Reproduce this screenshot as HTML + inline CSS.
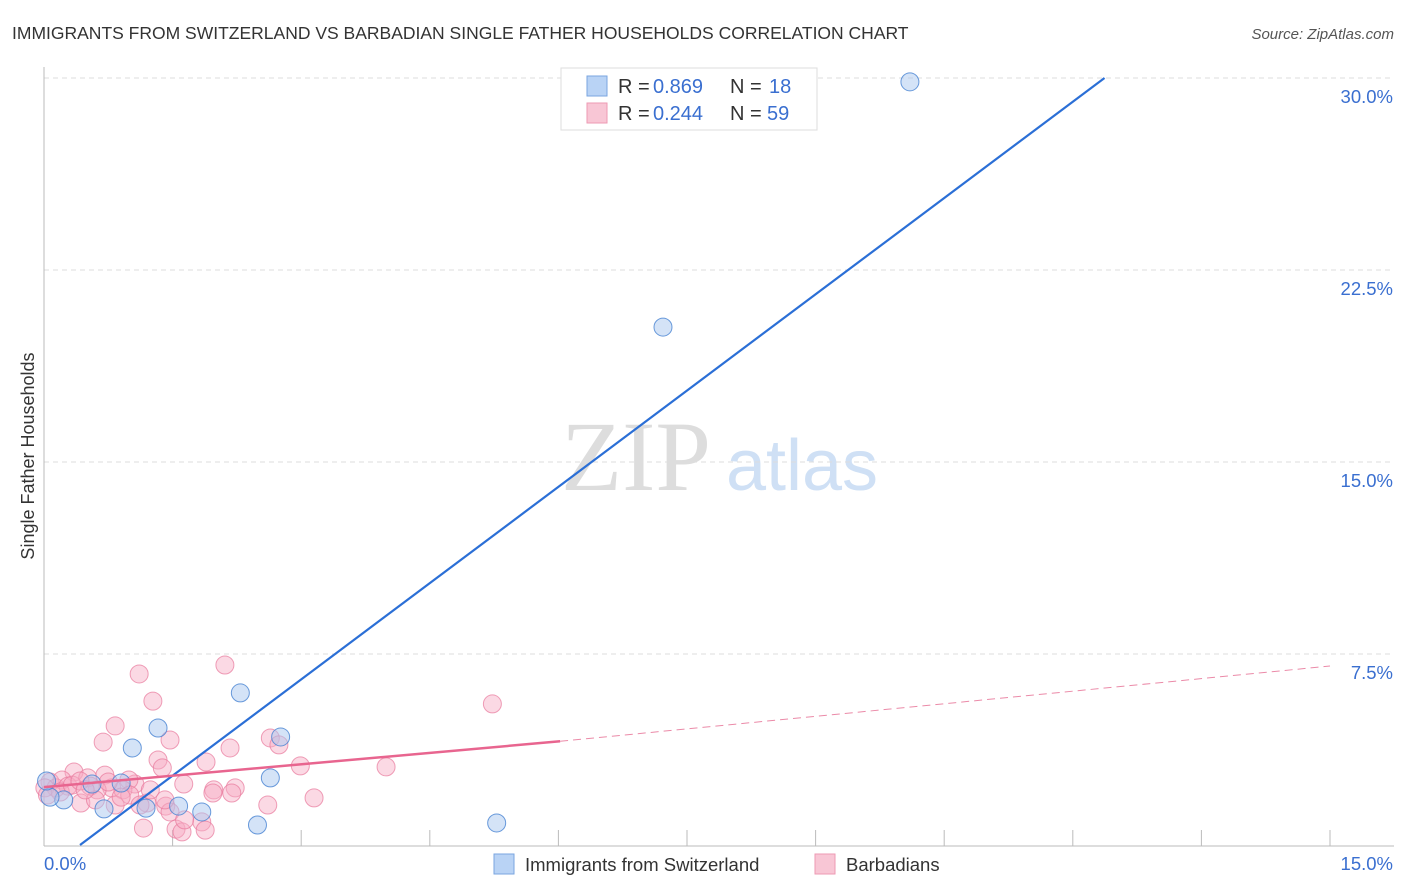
<!DOCTYPE html>
<html><head><meta charset="utf-8"><style>
body{margin:0;background:#fff;font-family:"Liberation Sans",sans-serif;}
svg{display:block}
</style></head><body>
<svg id="chart" width="1406" height="892" xmlns="http://www.w3.org/2000/svg">
<text x="12" y="39" font-size="17.5" fill="#333">IMMIGRANTS FROM SWITZERLAND VS BARBADIAN SINGLE FATHER HOUSEHOLDS CORRELATION CHART</text>
<text x="1394" y="39" font-size="15" fill="#555" font-style="italic" text-anchor="end">Source: ZipAtlas.com</text>
<text transform="translate(34,456) rotate(-90)" font-size="18" fill="#333" text-anchor="middle">Single Father Households</text>
<g>
<text x="636" y="490" font-size="100" font-family="Liberation Serif,serif" fill="#ddd" text-anchor="middle">ZIP</text>
<text x="802" y="490" font-size="72" fill="#cfe0f5" text-anchor="middle">atlas</text>
</g>
<g id="grid"></g><g id="axes"></g><g id="pts"></g><g id="lines"></g>
<g>
<rect x="561" y="68" width="256" height="62" fill="#fff" stroke="#ddd"/>
<rect x="587" y="76" width="20" height="20" fill="#b9d3f5" stroke="#7aa6e0"/>
<text x="618" y="93" font-size="20" fill="#333">R =</text>
<text x="653" y="93" font-size="20" fill="#3a6fd0">0.869</text>
<text x="730" y="93" font-size="20" fill="#333">N =</text>
<text x="769" y="93" font-size="20" fill="#3a6fd0">18</text>
<rect x="587" y="103" width="20" height="20" fill="#f8c6d5" stroke="#ee9ab3"/>
<text x="618" y="120" font-size="20" fill="#333">R =</text>
<text x="653" y="120" font-size="20" fill="#3a6fd0">0.244</text>
<text x="730" y="120" font-size="20" fill="#333">N =</text>
<text x="767" y="120" font-size="20" fill="#3a6fd0">59</text>
</g>
<g>
<rect x="494" y="854" width="20" height="20" fill="#b9d3f5" stroke="#7aa6e0"/>
<text x="525" y="871" font-size="18.5" fill="#333">Immigrants from Switzerland</text>
<rect x="815" y="854" width="20" height="20" fill="#f8c6d5" stroke="#ee9ab3"/>
<text x="846" y="871" font-size="18.5" fill="#333">Barbadians</text>
</g>
</svg>
<script>
const blueX=[10.1,7.22,2.29,1.33,1.03,2.76,2.64,1.57,1.19,1.84,2.49,5.28,0.70,0.23,0.07,0.03,0.56,0.90];
const blueY=[29.85,20.27,5.98,4.61,3.83,4.26,2.66,1.56,1.48,1.33,0.82,0.90,1.45,1.80,1.91,2.54,2.42,2.46];
const pinkX=[2.11,1.11,1.27,0.83,0.69,1.47,2.64,2.74,2.17,1.33,1.38,1.89,2.99,3.99,5.23,1.63,0.35,0.51,0.71,1.06,0.79,0.99,0.07,0.14,0.21,0.28,0.01,0.62,0.92,1.98,2.23,1.97,2.19,0.43,0.83,1.2,2.61,3.15,1.16,1.54,1.61,1.84,1.42,0.19,0.33,0.54,0.75,1.0,1.24,1.47,1.12,0.9,0.42,0.04,0.6,1.41,1.64,1.88,0.48];
const pinkY=[7.07,6.72,5.66,4.69,4.06,4.14,4.22,3.95,3.83,3.36,3.05,3.28,3.13,3.09,5.55,2.42,2.89,2.66,2.77,2.42,2.27,2.58,2.5,2.27,2.58,2.34,2.27,2.19,2.19,2.19,2.27,2.07,2.07,1.68,1.6,1.68,1.6,1.88,0.7,0.66,0.55,0.94,1.56,2.11,2.38,2.34,2.5,1.99,2.19,1.33,1.6,1.91,2.54,1.99,1.8,1.8,1.02,0.62,2.19];
const yTicks=[7.5,15,22.5,30];
const xTicks=[0,1.5,3,4.5,6,7.5,9,10.5,12,13.5,15];
const blueLine=[[0.42,0.04],[12.37,30]];
const pinkSolid=[[0,2.3],[6.02,4.09]];
const pinkDash=[[6.02,4.09],[15,7.03]];
const X=v=>44+v/15*1286, Y=v=>846-v/30*768;
const NS="http://www.w3.org/2000/svg";
function mk(p,t,a){const e=document.createElementNS(NS,t);for(const k in a)e.setAttribute(k,a[k]);document.getElementById(p).appendChild(e);return e;}
yTicks.forEach(t=>{
 const l=mk('grid','line',{x1:44,x2:1394,y1:Y(t),y2:Y(t),stroke:'#ddd','stroke-dasharray':'5,4'});
 
 
 const tx=mk('grid','text',{x:1393,y:Y(t)+25,'font-size':18.5,fill:'#3a6fd0','text-anchor':'end'});
 tx.textContent=t.toFixed(1)+'%';
 
 
});
let ax=mk('axes','line',{x1:44,x2:44,y1:67,y2:846,stroke:'#bbb'});


ax=mk('axes','line',{x1:44,x2:1394,y1:846,y2:846,stroke:'#bbb'});


xTicks.forEach(t=>{const l=mk('axes','line',{x1:X(t),x2:X(t),y1:830,y2:846,stroke:'#bbb'});
 
 });
let tl=mk('axes','text',{x:44,y:870,'font-size':18.5,fill:'#3a6fd0'});tl.textContent='0.0%';


tl=mk('axes','text',{x:1393,y:870,'font-size':18.5,fill:'#3a6fd0','text-anchor':'end'});tl.textContent='15.0%';


pinkX.forEach((v,i)=>{const c=mk('pts','circle',{cx:X(v),cy:Y(pinkY[i]),r:9,fill:'rgba(246,170,195,0.45)',stroke:'rgba(232,120,155,0.7)','stroke-width':1});
 
 });
blueX.forEach((v,i)=>{const c=mk('pts','circle',{cx:X(v),cy:Y(blueY[i]),r:9,fill:'rgba(170,200,240,0.5)',stroke:'rgba(70,130,210,0.8)','stroke-width':1});
 
 });
let ln=mk('lines','line',{x1:X(blueLine[0][0]),y1:Y(blueLine[0][1]),x2:X(blueLine[1][0]),y2:Y(blueLine[1][1]),stroke:'#2b6fd6','stroke-width':2.2});


ln=mk('lines','line',{x1:X(pinkSolid[0][0]),y1:Y(pinkSolid[0][1]),x2:X(pinkSolid[1][0]),y2:Y(pinkSolid[1][1]),stroke:'#e8658f','stroke-width':2.5});


ln=mk('lines','line',{x1:X(pinkDash[0][0]),y1:Y(pinkDash[0][1]),x2:X(pinkDash[1][0]),y2:Y(pinkDash[1][1]),stroke:'#eb8aa8','stroke-width':1,'stroke-dasharray':'8,5'});


</script>
</body></html>
